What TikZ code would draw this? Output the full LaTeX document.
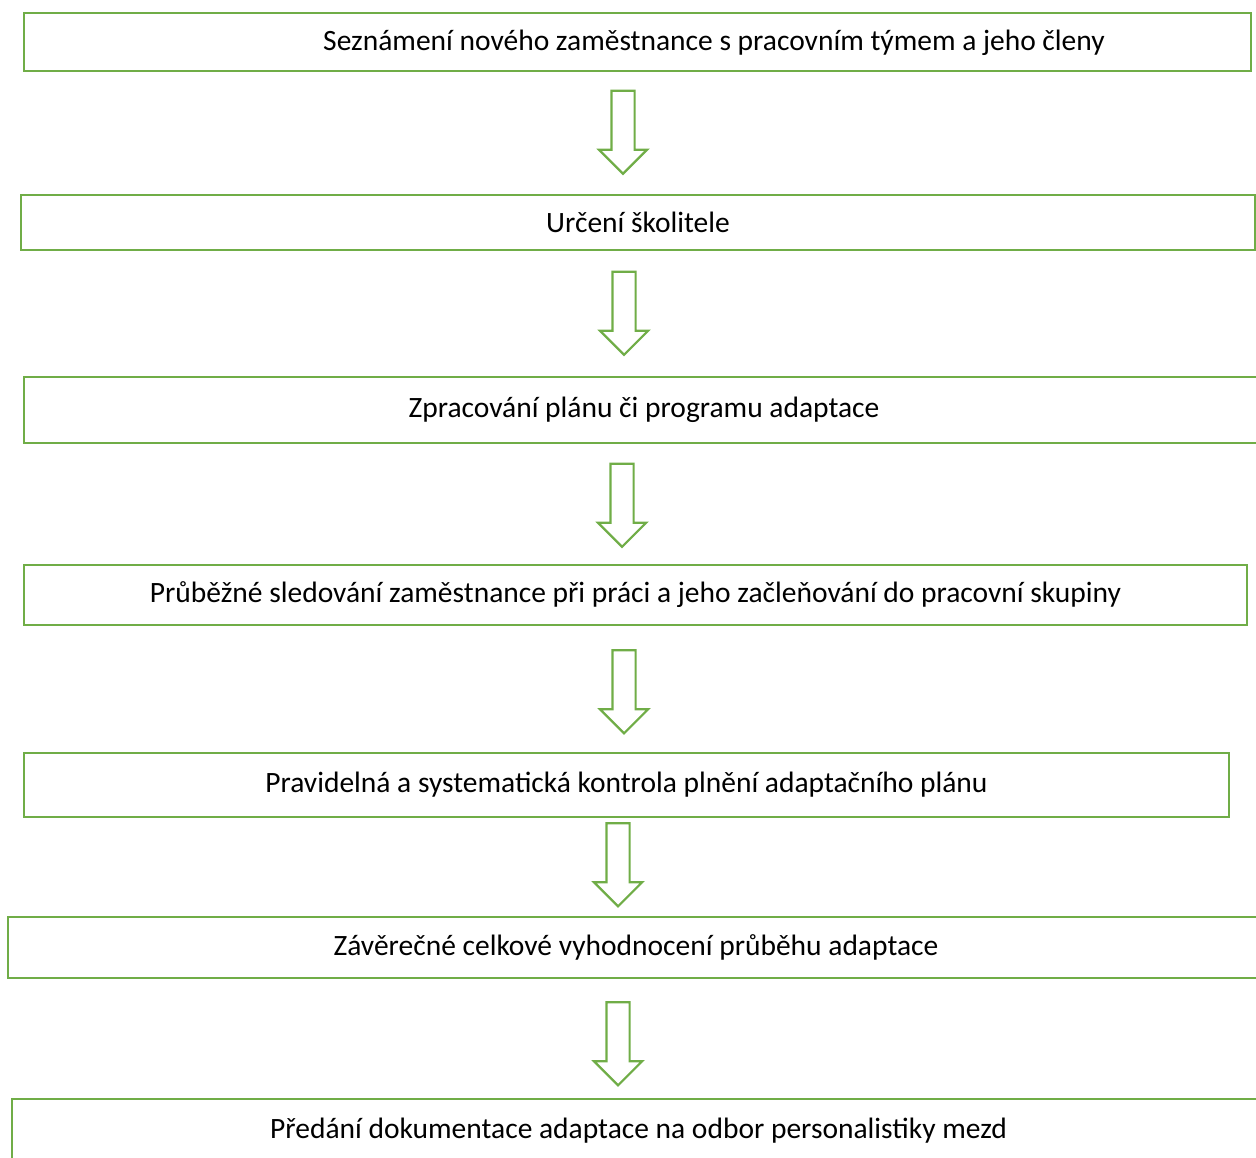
\documentclass[tikz,border=0pt]{standalone}
\usepackage{fontspec}
\setmainfont{Carlito}
\usetikzlibrary{shapes.arrows}
\definecolor{stepgreen}{RGB}{112,173,71}

\begin{document}
\begin{tikzpicture}[x=1pt, y=-1pt,
    every node/.style={font=\fontsize{29.5}{35}\selectfont},
    stepbox/.style={draw=stepgreen, line width=2.8pt},
    downarrow/.style={draw=stepgreen, line width=2.2pt, single arrow, shape border rotate=270,
      single arrow head extend=12.5pt, single arrow tip angle=90, single arrow head indent=0pt,
      minimum height=83pt, inner sep=10.5pt}]
  \useasboundingbox (0,0) rectangle (1256,1158);
  \clip (0,0) rectangle (1256,1158);

  % steps of the adaptation
  \node[stepbox, minimum width=1227pt, minimum height=58pt] (intro) at (637.5,42) {};
  \node (introtext) at (714,43) {Seznámení nového zaměstnance s pracovním týmem a jeho členy};
  \node[stepbox, minimum width=1234pt, minimum height=55pt] (mentor) at (638,222.5) {Určení školitele};
  \node[stepbox, minimum width=1240pt, minimum height=66pt] (plan) at (644,410) {Zpracování plánu či programu adaptace};
  \node[stepbox, minimum width=1223pt, minimum height=60pt] (monitor) at (635.5,595) {Průběžné sledování zaměstnance při práci a jeho začleňování do pracovní skupiny};
  \node[stepbox, minimum width=1205pt, minimum height=64pt] (control) at (626.5,785) {Pravidelná a systematická kontrola plnění adaptačního plánu};
  \node[stepbox, minimum width=1256pt, minimum height=61pt] (review) at (636,947.5) {Závěrečné celkové vyhodnocení průběhu adaptace};
  \node[stepbox, minimum width=1253pt, minimum height=64pt] (handover) at (638.5,1131) {Předání dokumentace adaptace na odbor personalistiky mezd};

  % block arrows between the steps
  \node[downarrow] (arrowa) at (623,126.5) {};
  \node[downarrow] (arrowb) at (624,307.5) {};
  \node[downarrow] (arrowc) at (622,499.5) {};
  \node[downarrow] (arrowd) at (624,686) {};
  \node[downarrow] (arrowe) at (618,859) {};
  \node[downarrow] (arrowf) at (618,1038) {};
\end{tikzpicture}
\end{document}
